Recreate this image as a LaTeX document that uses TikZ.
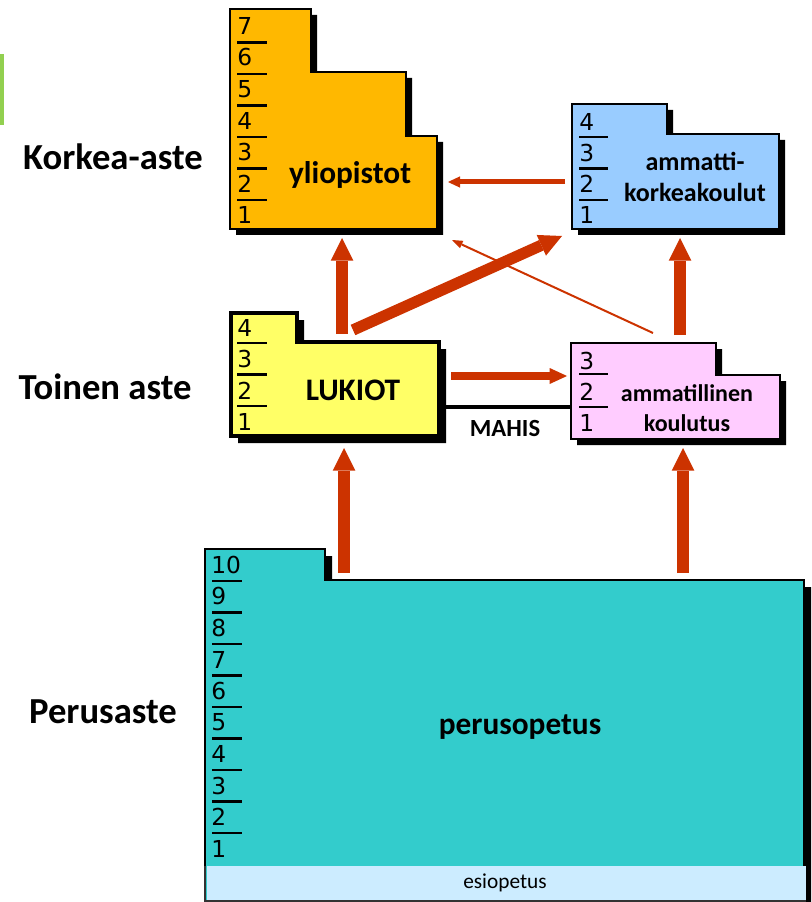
\documentclass[tikz,border=0pt]{standalone}
\usepackage{fontspec}
\setmainfont{Carlito}
\newfontfamily\digitfont{DejaVu Sans}
\usetikzlibrary{arrows.meta,positioning}
\definecolor{yocol}{HTML}{FFB800}
\definecolor{amkcol}{HTML}{99CCFF}
\definecolor{lukcol}{HTML}{FFFF66}
\definecolor{amcol}{HTML}{FFCCFF}
\definecolor{pecol}{HTML}{33CCCC}
\definecolor{esicol}{HTML}{CCECFF}
\definecolor{arrcol}{HTML}{CC3300}
\definecolor{barcol}{HTML}{92D050}

\tikzset{
  box/.style={draw=black, line width=0.9pt},
  yearline/.style={line width=1.6pt},
  year/.style={anchor=west, inner sep=0pt, font=\digitfont\fontsize{17.5}{17.5}\selectfont},
  boxlabel/.style={font=\bfseries\fontsize{23.5}{23.5}\selectfont, align=center, inner sep=0pt},
  levellabel/.style={font=\bfseries\fontsize{27.5}{27.5}\selectfont, inner sep=0pt},
  flow/.style={draw=arrcol, line width=9pt, -{Triangle[width=17pt,length=17pt,line width=0pt]}}
}

\begin{document}
\begin{tikzpicture}[x=0.75pt,y=0.75pt,yscale=-1,xscale=1]
    \useasboundingbox (0,0) rectangle (811,902);
    
    % green bar at the left edge
    \fill[barcol] (0,54) rectangle (4,125);
    
    % Level labels
    \node[levellabel] (korkea) at (113,157) {Korkea-aste};
    \node[levellabel] (toinen) at (105,387) {Toinen aste};
    \node[levellabel] (perus) at (103,712) {Perusaste};
    
    %yliopistot
    \fill[black] (236,15) -- (317,15) -- (317,78) -- (412,78) -- (412,142) -- (443,142) -- (443,235) -- (236,235) -- cycle;
    \draw[box, fill=yocol] (230,9) -- (311,9) -- (311,72) -- (406,72) -- (406,136) -- (437,136) -- (437,229) -- (230,229) -- cycle;
    \foreach \n [count=\j from 0] in {7,...,1}
      \node[year] (yo-\n) at (237,{26+31.5*\j}) {\n};
    \foreach \k in {0,...,5}
      \draw[yearline] (237,{42.5+31.5*\k}) -- (267,{42.5+31.5*\k});
    \node[boxlabel] (yo) at (350,175) {yliopistot};
    
    %ammattikorkeakoulut
    \fill[black] (578,110) -- (673,110) -- (673,140) -- (785,140) -- (785,235) -- (578,235) -- cycle;
    \draw[box, fill=amkcol] (572,104) -- (667,104) -- (667,134) -- (779,134) -- (779,229) -- (572,229) -- cycle;
    \foreach \n [count=\j from 0] in {4,...,1}
      \node[year] (amk-\n) at (579,{122+31*\j}) {\n};
    \foreach \k in {0,...,2}
      \draw[yearline] (579,{137+31.5*\k}) -- (608,{137+31.5*\k});
    \node[boxlabel, font=\bfseries\fontsize{19.5}{23}\selectfont] (amk) at (695,177) {ammatti-\\korkeakoulut};
    
    %LUKIOT
    \fill[black] (238,320) -- (304,320) -- (304,349) -- (446,349) -- (446,443) -- (238,443) -- cycle;
    \draw[box, line width=2.4pt, fill=lukcol] (231,313) -- (297,313) -- (297,342) -- (439,342) -- (439,436) -- (231,436) -- cycle;
    \foreach \n [count=\j from 0] in {4,...,1}
      \node[year] (luk-\n) at (237,{328+31.3*\j}) {\n};
    \foreach \k in {0,...,2}
      \draw[yearline] (237,{343+31.5*\k}) -- (267,{343+31.5*\k});
    \node[boxlabel] (luk) at (353,390) {LUKIOT};
    
    %ammatillinen koulutus
    \fill[black] (577,349) -- (722,349) -- (722,381) -- (786,381) -- (786,445) -- (577,445) -- cycle;
    \draw[box, fill=amcol] (571,343) -- (716,343) -- (716,375) -- (780,375) -- (780,439) -- (571,439) -- cycle;
    \foreach \n [count=\j from 0] in {3,...,1}
      \node[year] (am-\n) at (579,{361+31*\j}) {\n};
    \foreach \k in {0,1}
      \draw[yearline] (579,{374+33*\k}) -- (608,{374+33*\k});
    \node[boxlabel, font=\bfseries\fontsize{18}{22.5}\selectfont] (am) at (687,408) {ammatillinen\\koulutus};
    
    %perusopetus
    \fill[black] (212,556) -- (332,556) -- (332,587) -- (811,587) -- (811,910) -- (212,910) -- cycle;
    \draw[box, fill=pecol] (205,549) -- (325,549) -- (325,580) -- (804,580) -- (804,901) -- (205,901) -- cycle;
    \fill[esicol] (206.5,866) rectangle (806,900);
    \draw[line width=0.9pt, draw=black!80] (205,866) -- (205,901) -- (806,901);
    \foreach \n [count=\j from 0] in {10,9,...,1}
      \node[year] (pe-\n) at (211,{565+31.5*\j}) {\n};
    \foreach \k in {0,...,8}
      \draw[yearline] (212,{581+31.5*\k}) -- (242,{581+31.5*\k});
    \node[boxlabel] (pe) at (520,727) {perusopetus};
    \node[inner sep=0pt, font=\fontsize{16}{16}\selectfont] (esi) at (505,883) {esiopetus};
    
    % Connector end points
    \coordinate (pe-l) at (344,573);
    \coordinate (luk-b) at (344,448);
    \coordinate (pe-r) at (683,573);
    \coordinate (am-b) at (683,448);
    \coordinate (luk-t) at (342,334);
    \coordinate (yo-b) at (342,238);
    \coordinate (am-t) at (680,335);
    \coordinate (amk-b) at (680,238);
    \coordinate (luk-tr) at (353,330);
    \coordinate (amk-bl) at (562,236);
    \coordinate (am-tl) at (653,333);
    \coordinate (yo-br) at (452,240);
    \coordinate (amk-l) at (565,182);
    \coordinate (yo-r) at (448,182);
    \coordinate (luk-r) at (451,376);
    \coordinate (am-l) at (567,376);
    \coordinate (mahis-l) at (439,407);
    \coordinate (mahis-r) at (572,407);
    
    % Arrows
    \draw[flow] (pe-l) -- (luk-b);
    \draw[flow] (pe-r) -- (am-b);
    \draw[flow] (luk-t) -- (yo-b);
    \draw[flow] (am-t) -- (amk-b);
    \draw[flow, line width=8.5pt] (luk-tr) -- (amk-bl);
    \draw[flow, line width=1.5pt, -{Triangle[width=6pt,length=8pt,line width=0pt]}] (am-tl) -- (yo-br);
    \draw[flow, line width=3.75pt, -{Triangle[width=8.5pt,length=9pt,line width=0pt]}] (amk-l) -- (yo-r);
    \draw[flow, line width=6pt, -{Triangle[width=12pt,length=13pt,line width=0pt]}] (luk-r) -- (am-l);
    
    % MAHIS
    \draw[line width=3pt] (mahis-l) -- (mahis-r);
    \node[boxlabel, font=\bfseries\fontsize{18.5}{18.5}\selectfont] (mahis) at (505,428) {MAHIS};
    
\end{tikzpicture}
\end{document}
